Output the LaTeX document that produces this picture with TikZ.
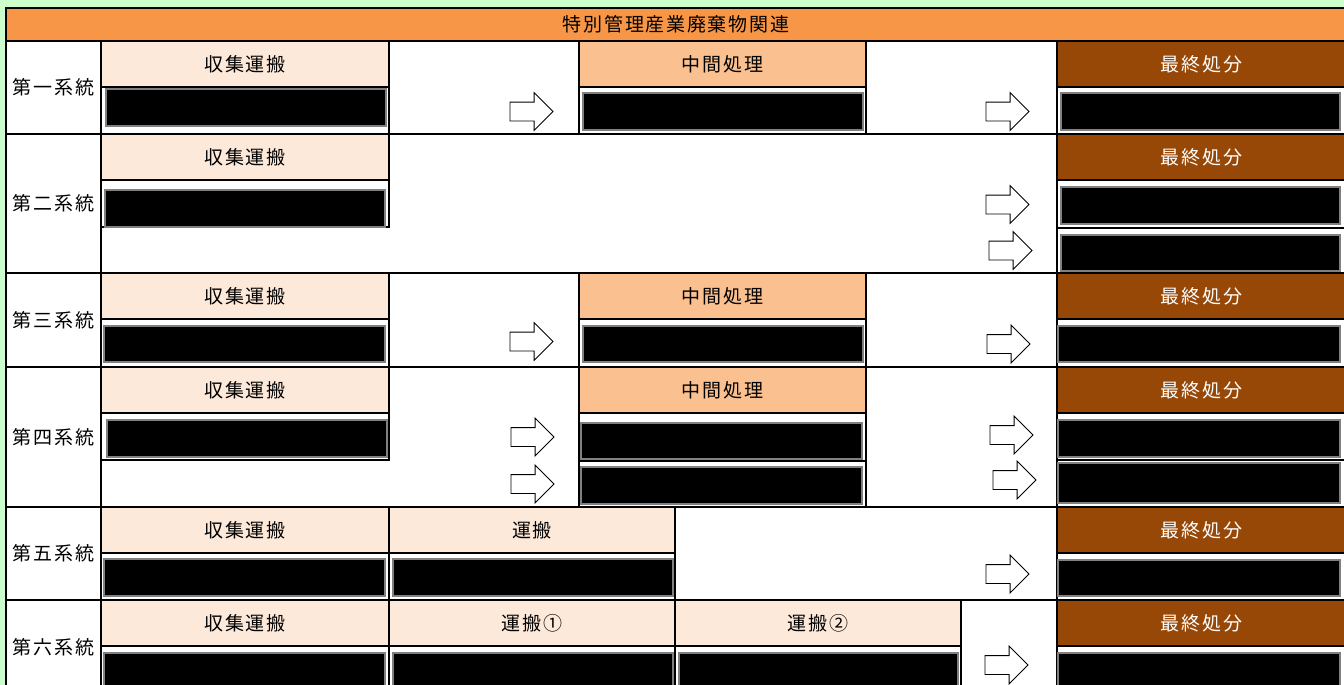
\documentclass[tikz,border=0pt]{standalone}
\usepackage{fontspec}
\setmainfont{Noto Sans CJK JP}[LetterSpace=9]
\usetikzlibrary{shapes.arrows}
\definecolor{bggreen}{HTML}{CCFFCC}
\definecolor{titleorange}{HTML}{F79646}
\definecolor{peach}{HTML}{FDE9D9}
\definecolor{apricot}{HTML}{FAC090}
\definecolor{rust}{HTML}{974706}

\begin{document}
\begin{tikzpicture}[x=1pt, y=-1pt,
  every node/.style={inner sep=0, outer sep=0, font=\fontsize{19}{19}\selectfont},
  cellat/.style n args={4}{minimum width={#3-#1}, minimum height={#4-#2}, at={({(#1+#3)/2},{(#2+#4)/2})}},
  frame/.style={draw, line width=2, fill=white},
  collect/.style={frame, fill=peach},
  treat/.style={frame, fill=apricot},
  final/.style={frame, fill=rust, text=white},
  redact/.style={draw=gray, line width=1.2, fill=black},
  flow/.style={single arrow, draw, fill=white, line width=0.8, inner xsep=0, inner ysep=9, minimum height=43, single arrow head extend=9.5, anchor=west}]
\fill[bggreen] (0,0) rectangle (1344,685);
\useasboundingbox (0,0) rectangle (1344,685);
\node[frame, fill=titleorange, cellat={6}{8}{1346}{41}] (head) {特別管理産業廃棄物関連};
\foreach \n/\t/\b/\lab in {1/41/134/第一系統, 2/134/273/第二系統, 3/273/367/第三系統, 4/367/507/第四系統, 5/507/600/第五系統, 6/600/694/第六系統}{
  \node[frame, cellat={101}{\t}{1346}{\b}] (row\n) {};
  \node[frame, cellat={6}{\t}{101}{\b}] (sys\n) {\lab};
}
% first line
\node[collect, cellat={101}{41}{389}{87}] (c1) {収集運搬};
\node[frame, cellat={101}{87}{389}{134}] (c1b) {};
\node[treat, cellat={579}{41}{866}{87}] (t1) {中間処理};
\node[frame, cellat={579}{87}{866}{134}] (t1b) {};
\node[final, cellat={1057}{41}{1346}{87}] (f1) {最終処分};
\node[frame, cellat={1057}{87}{1346}{134}] (f1b) {};
% second line
\node[collect, cellat={101}{134}{389}{180}] (c2) {収集運搬};
\node[frame, cellat={101}{180}{389}{227}] (c2b) {};
\node[final, cellat={1057}{134}{1346}{180}] (f2) {最終処分};
\node[frame, cellat={1057}{180}{1346}{228}] (f2b) {};
\node[frame, cellat={1057}{228}{1346}{273}] (f2c) {};
% third line
\node[collect, cellat={101}{273}{389}{319}] (c3) {収集運搬};
\node[frame, cellat={101}{319}{389}{367}] (c3b) {};
\node[treat, cellat={579}{273}{866}{319}] (t3) {中間処理};
\node[frame, cellat={579}{319}{866}{367}] (t3b) {};
\node[final, cellat={1057}{273}{1346}{319}] (f3) {最終処分};
\node[frame, cellat={1057}{319}{1346}{367}] (f3b) {};
% fourth line
\node[collect, cellat={101}{367}{389}{413}] (c4) {収集運搬};
\node[frame, cellat={101}{413}{389}{460}] (c4b) {};
\node[treat, cellat={579}{367}{866}{413}] (t4) {中間処理};
\node[frame, cellat={579}{413}{866}{461}] (t4b) {};
\node[frame, cellat={579}{461}{866}{507}] (t4c) {};
\node[final, cellat={1057}{367}{1346}{413}] (f4) {最終処分};
\node[frame, cellat={1057}{413}{1346}{460}] (f4b) {};
\node[frame, cellat={1057}{460}{1346}{507}] (f4c) {};
% fifth line
\node[collect, cellat={101}{507}{389}{553}] (c5) {収集運搬};
\node[frame, cellat={101}{553}{389}{600}] (c5b) {};
\node[collect, cellat={389}{507}{675}{553}] (h5) {運搬};
\node[frame, cellat={389}{553}{675}{600}] (h5b) {};
\node[final, cellat={1057}{507}{1346}{553}] (f5) {最終処分};
\node[frame, cellat={1057}{553}{1346}{600}] (f5b) {};
% sixth line
\node[collect, cellat={101}{600}{389}{646}] (c6) {収集運搬};
\node[frame, cellat={101}{646}{389}{694}] (c6b) {};
\node[collect, cellat={389}{600}{675}{646}] (h6) {運搬①};
\node[frame, cellat={389}{646}{675}{694}] (h6b) {};
\node[collect, cellat={675}{600}{961}{646}] (k6) {運搬②};
\node[frame, cellat={675}{646}{961}{694}] (k6b) {};
\node[final, cellat={1057}{600}{1346}{646}] (f6) {最終処分};
\node[frame, cellat={1057}{646}{1346}{694}] (f6b) {};
% blacked out names
\foreach \a/\b/\c/\d [count=\i] in {106/89/386/126, 583/93/863/130, 1061/93/1340/130,
  105/190/385/227, 1061/187/1340/224, 1061/235/1340/271,
  104/326/385/362, 583/326/863/362, 1058/326/1340/362,
  107/420/387/457, 581/423/862/459, 581/467/862/504, 1058/420/1340/457, 1058/463/1340/503,
  104/559/385/596, 393/559/673/596, 1058/560/1340/596,
  104/653/385/700, 393/653/673/700, 679/653/958/700, 1058/653/1340/700}
  \node[redact, cellat={\a}{\b}{\c}{\d}] (blk\i) {};
% flow arrows
\foreach \x/\y [count=\i] in {510/111.5, 986/111.5, 986/204.5, 989/250.5, 510/341.5, 987/344,
  511/437, 511/484, 990/435, 993/480, 986/574, 985/665}
  \node[flow] (arr\i) at (\x,\y) {};
\end{tikzpicture}
\end{document}
